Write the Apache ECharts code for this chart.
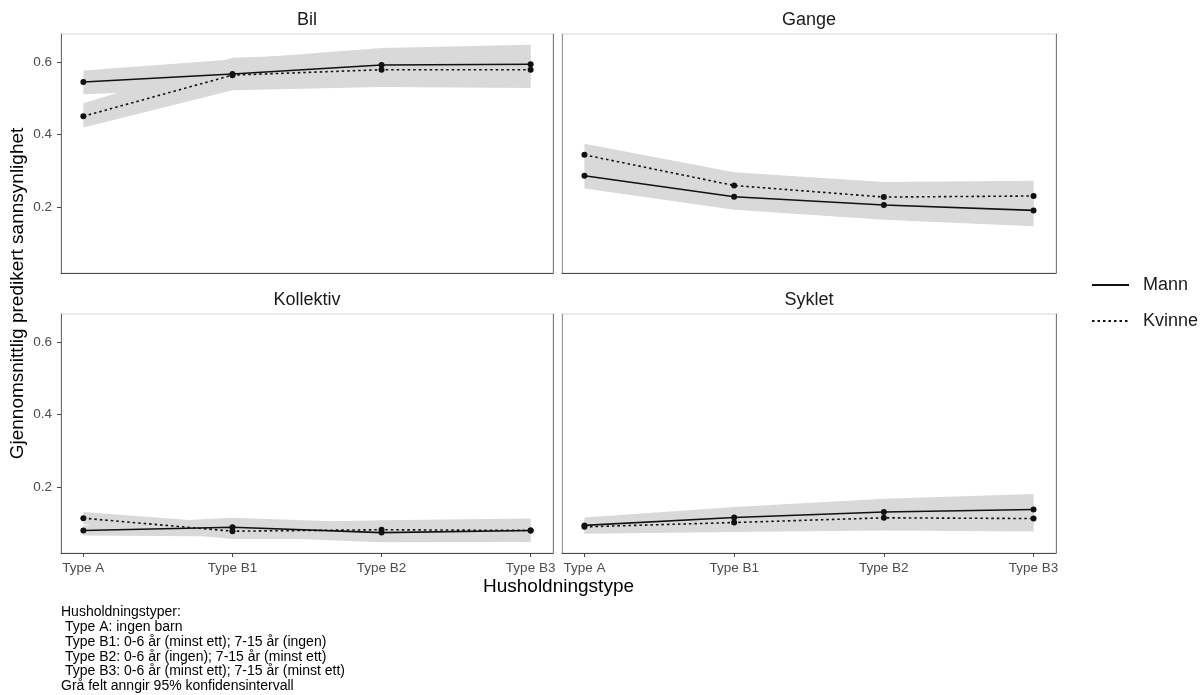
<!DOCTYPE html>
<html><head><meta charset="utf-8">
<script src="https://cdn.jsdelivr.net/npm/echarts@6/dist/echarts.min.js"></script>
<style>html,body{margin:0;padding:0;background:#fff}#c{width:1200px;height:695px}</style>
</head><body><div id="c"></div>
<script>
// ---------- data ----------
const categories = ['Type A', 'Type B1', 'Type B2', 'Type B3'];
const panelNames = ['Bil', 'Gange', 'Kollektiv', 'Syklet'];
const yTicks = [0.2, 0.4, 0.6];
const seriesNames = ['Mann', 'Kvinne'];

// Bil
const bilMann      = [0.546, 0.568, 0.593, 0.595];
const bilMannLo    = [0.512, 0.528, 0.546, 0.541];
const bilMannHi    = [0.578, 0.608, 0.640, 0.649];
const bilKvinne    = [0.451, 0.565, 0.580, 0.580];
const bilKvinneLo  = [0.420, 0.523, 0.532, 0.529];
const bilKvinneHi  = [0.487, 0.613, 0.628, 0.631];
// Gange
const gangeMann     = [0.286, 0.228, 0.205, 0.190];
const gangeMannLo   = [0.251, 0.192, 0.164, 0.146];
const gangeMannHi   = [0.321, 0.264, 0.246, 0.234];
const gangeKvinne   = [0.344, 0.259, 0.227, 0.230];
const gangeKvinneLo = [0.313, 0.222, 0.185, 0.188];
const gangeKvinneHi = [0.375, 0.296, 0.269, 0.272];
// Kollektiv
const kolMann     = [0.079, 0.088, 0.073, 0.079];
const kolMannLo   = [0.065, 0.062, 0.046, 0.047];
const kolMannHi   = [0.093, 0.114, 0.100, 0.111];
const kolKvinne   = [0.113, 0.077, 0.081, 0.079];
const kolKvinneLo = [0.096, 0.055, 0.055, 0.046];
const kolKvinneHi = [0.130, 0.099, 0.107, 0.112];
// Syklet
const sykMann     = [0.093, 0.115, 0.130, 0.137];
const sykMannLo   = [0.071, 0.086, 0.093, 0.094];
const sykMannHi   = [0.115, 0.144, 0.167, 0.180];
const sykKvinne   = [0.089, 0.101, 0.114, 0.112];
const sykKvinneLo = [0.070, 0.075, 0.079, 0.076];
const sykKvinneHi = [0.108, 0.127, 0.149, 0.148];

const captionLines = [
  'Husholdningstyper:',
  ' Type A: ingen barn',
  ' Type B1: 0-6 år (minst ett); 7-15 år (ingen)',
  ' Type B2: 0-6 år (ingen); 7-15 år (minst ett)',
  ' Type B3: 0-6 år (minst ett); 7-15 år (minst ett)',
  'Grå felt anngir 95% konfidensintervall'
];
const xTitle = 'Husholdningstype';
const yTitle = 'Gjennomsnittlig predikert sannsynlighet';

// ---------- build ----------
const panelData = [
  {m: bilMann, mLo: bilMannLo, mHi: bilMannHi, k: bilKvinne, kLo: bilKvinneLo, kHi: bilKvinneHi},
  {m: gangeMann, mLo: gangeMannLo, mHi: gangeMannHi, k: gangeKvinne, kLo: gangeKvinneLo, kHi: gangeKvinneHi},
  {m: kolMann, mLo: kolMannLo, mHi: kolMannHi, k: kolKvinne, kLo: kolKvinneLo, kHi: kolKvinneHi},
  {m: sykMann, mLo: sykMannLo, mHi: sykMannHi, k: sykKvinne, kLo: sykKvinneLo, kHi: sykKvinneHi}
];

const FONT = '"Liberation Sans", Arial, sans-serif';
const xIdx = categories.map((c, i) => i);
const gridPos = [
  {left: 61, top: 34, width: 492, height: 239},
  {left: 562, top: 34, width: 494, height: 239},
  {left: 61, top: 314, width: 492, height: 239},
  {left: 562, top: 314, width: 494, height: 239}
];
const YMIN = 0.0165, YMAX = 0.679;

const grids = gridPos.map(g => Object.assign({show: true, borderColor: '#d6d6d6', borderWidth: 1, backgroundColor: '#fff'}, g));

const xAxes = gridPos.map((g, i) => {
  const bottom = i >= 2;
  return {
    gridIndex: i, type: 'value', min: -0.15, max: 3.15,
    axisLine: {show: true, onZero: false, lineStyle: {color: '#4a4a4a', width: 1}},
    axisTick: {show: bottom, customValues: xIdx, length: 4, lineStyle: {color: '#4a4a4a'}},
    axisLabel: {show: bottom, customValues: xIdx, formatter: v => categories[Math.round(v)],
      fontSize: 13.5, color: '#4d4d4d', fontFamily: FONT, margin: 8},
    splitLine: {show: false}
  };
});
const yAxes = [];
gridPos.forEach((g, i) => {
  const left = i % 2 === 0;
  yAxes.push({
    gridIndex: i, type: 'value', min: YMIN, max: YMAX, position: 'left',
    axisLine: {show: true, onZero: false, lineStyle: {color: left ? '#6a6a6a' : '#9a9a9a', width: 1}},
    axisTick: {show: left, customValues: yTicks, length: 4, lineStyle: {color: '#4a4a4a'}},
    axisLabel: {show: left, customValues: yTicks, formatter: v => v.toFixed(1),
      fontSize: 13.5, color: '#4d4d4d', fontFamily: FONT, margin: 9},
    splitLine: {show: false}
  });
});
gridPos.forEach((g, i) => {
  yAxes.push({
    gridIndex: i, type: 'value', min: YMIN, max: YMAX, position: 'right',
    axisLine: {show: true, onZero: false, lineStyle: {color: '#7a7a7a', width: 1}},
    axisTick: {show: false}, axisLabel: {show: false}, splitLine: {show: false}
  });
});

function bandSeries(gi, lo, hi) {
  return {
    type: 'custom', xAxisIndex: gi, yAxisIndex: gi, silent: true, z: 1,
    data: lo.map((v, i) => [i, v, hi[i]]),
    encode: {x: 0, y: [1, 2]},
    renderItem: (params, api) => {
      if (params.dataIndex !== 0) return null;
      const pts = [];
      for (let i = 0; i < hi.length; i++) pts.push(api.coord([i, hi[i]]));
      for (let i = lo.length - 1; i >= 0; i--) pts.push(api.coord([i, lo[i]]));
      return {type: 'polygon', shape: {points: pts}, style: {fill: '#d9d9d9', stroke: null}};
    }
  };
}
const DOT = [2.5, 3];
function lineSeries(gi, name, vals, dotted) {
  return {
    type: 'line', name: name, xAxisIndex: gi, yAxisIndex: gi, silent: true, z: 3,
    data: vals.map((v, i) => [i, v]),
    symbol: 'circle', symbolSize: 6, showSymbol: true,
    lineStyle: {color: '#111', width: 1.6, type: dotted ? DOT : 'solid'},
    itemStyle: {color: '#111'}
  };
}

const series = [
  // legend carriers
  {type: 'line', name: 'Mann', data: [], symbol: 'none', xAxisIndex: 0, yAxisIndex: 0,
   lineStyle: {color: '#111', width: 1.5, type: 'solid'}, itemStyle: {color: '#111'}},
  {type: 'line', name: 'Kvinne', data: [], symbol: 'none', xAxisIndex: 0, yAxisIndex: 0,
   lineStyle: {color: '#111', width: 1.5, type: DOT}, itemStyle: {color: '#111'}}
];
panelData.forEach((p, gi) => {
  series.push(bandSeries(gi, p.mLo, p.mHi));
  series.push(bandSeries(gi, p.kLo, p.kHi));
});
panelData.forEach((p, gi) => {
  series.push(lineSeries(gi, 'Mann', p.m, false));
  series.push(lineSeries(gi, 'Kvinne', p.k, true));
});

const graphics = [];
panelNames.forEach((n, i) => {
  const g = gridPos[i];
  graphics.push({type: 'text', x: g.left + g.width / 2, y: g.top - 13.5,
    style: {text: n, fontSize: 18, fontFamily: FONT, fill: '#1a1a1a', align: 'center', verticalAlign: 'middle'}});
});
graphics.push({type: 'text', x: (61 + 1056) / 2, y: 587,
  style: {text: xTitle, fontSize: 19, fontFamily: FONT, fill: '#000', align: 'center', verticalAlign: 'middle'}});
graphics.push({type: 'text', x: 18, y: 293.5, rotation: Math.PI / 2,
  style: {text: yTitle, fontSize: 19, fontFamily: FONT, fill: '#000', align: 'center', verticalAlign: 'middle'}});
graphics.push({type: 'text', x: 61, y: 605,
  style: {text: captionLines.join('\n'), fontSize: 14, lineHeight: 14.8, fontFamily: FONT, fill: '#000', align: 'left', verticalAlign: 'top'}});

const chart = echarts.init(document.getElementById('c'), null, {renderer: 'canvas'});
chart.setOption({
  animation: false,
  backgroundColor: '#fff',
  grid: grids, xAxis: xAxes, yAxis: yAxes, series: series,
  legend: {
    data: seriesNames, orient: 'vertical', left: 1086, top: 271,
    itemWidth: 37, itemHeight: 14, itemGap: 18, selectedMode: false,
    itemStyle: {opacity: 0, color: 'rgba(0,0,0,0)', borderWidth: 0},
    textStyle: {fontSize: 18, color: '#1a1a1a', fontFamily: FONT, padding: [0, 0, 0, 9]}
  },
  graphic: graphics
});
</script></body></html>
